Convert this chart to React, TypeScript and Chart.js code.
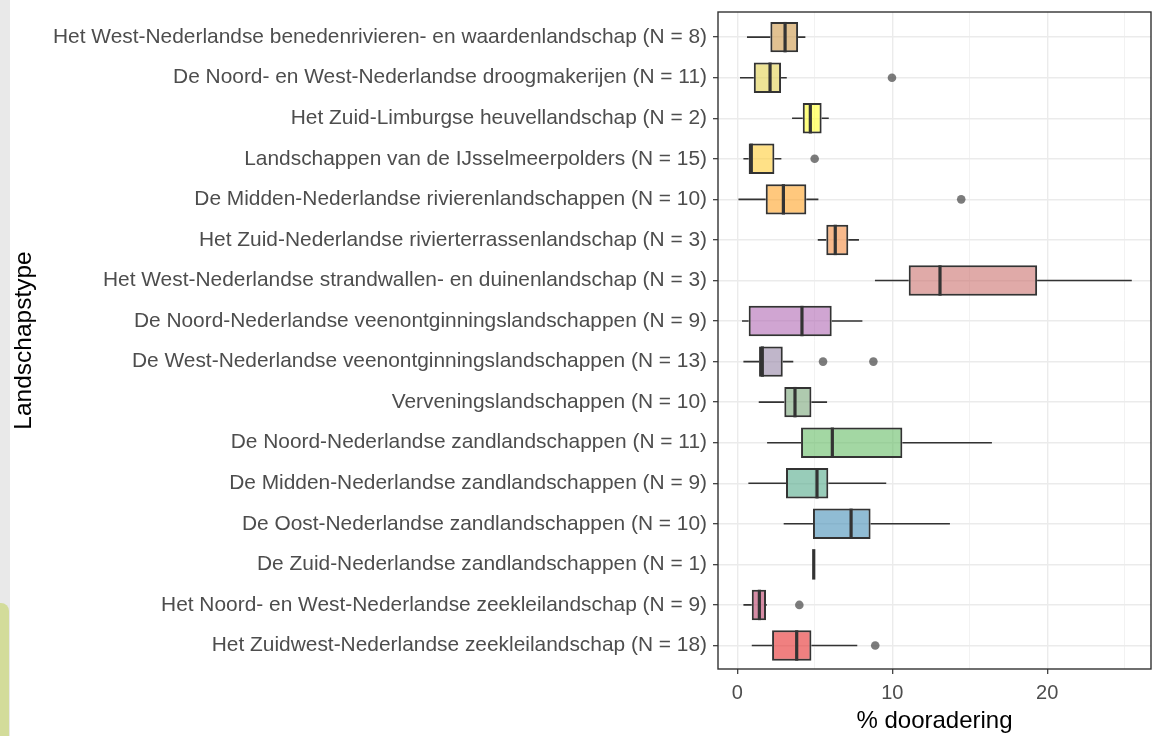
import React, { useEffect, useRef } from 'react';
import { Chart, registerables } from 'chart.js';

Chart.register(...registerables);

const categories = [
  'Het West-Nederlandse benedenrivieren- en waardenlandschap (N = 8)',
  'De Noord- en West-Nederlandse droogmakerijen (N = 11)',
  'Het Zuid-Limburgse heuvellandschap (N = 2)',
  'Landschappen van de IJsselmeerpolders (N = 15)',
  'De Midden-Nederlandse rivierenlandschappen (N = 10)',
  'Het Zuid-Nederlandse rivierterrassenlandschap (N = 3)',
  'Het West-Nederlandse strandwallen- en duinenlandschap (N = 3)',
  'De Noord-Nederlandse veenontginningslandschappen (N = 9)',
  'De West-Nederlandse veenontginningslandschappen (N = 13)',
  'Verveningslandschappen (N = 10)',
  'De Noord-Nederlandse zandlandschappen (N = 11)',
  'De Midden-Nederlandse zandlandschappen (N = 9)',
  'De Oost-Nederlandse zandlandschappen (N = 10)',
  'De Zuid-Nederlandse zandlandschappen (N = 1)',
  'Het Noord- en West-Nederlandse zeekleilandschap (N = 9)',
  'Het Zuidwest-Nederlandse zeekleilandschap (N = 18)',
];

const lowerWhisker = [0.62, 0.17, 3.53, 0.39, 0.07, 5.19, 8.88, 0.3, 0.39, 1.38, 1.92, 0.71, 2.99, 4.93, 0.39, 0.93];
const q1 = [2.13, 1.06, 4.22, 0.73, 1.83, 5.74, 11.06, 0.73, 1.4, 3.03, 4.11, 3.14, 4.88, 4.93, 0.93, 2.24];
const median = [3.08, 2.11, 4.71, 0.9, 2.97, 6.32, 13.08, 4.17, 1.61, 3.72, 6.13, 5.14, 7.34, 4.93, 1.42, 3.83];
const q3 = [3.92, 2.82, 5.44, 2.39, 4.45, 7.16, 19.35, 6.09, 2.93, 4.78, 10.65, 5.87, 8.6, 4.93, 1.85, 4.78];
const upperWhisker = [4.39, 3.19, 5.9, 2.84, 5.23, 7.85, 25.46, 8.07, 3.61, 5.79, 16.43, 9.61, 13.72, 4.93, 1.9, 7.74];
const outliers: number[][] = [[], [9.98], [], [4.99], [14.45], [], [], [], [5.53, 8.78], [], [], [], [], [], [4.0], [8.9]];

const boxColors = [
  'rgba(205,152,72,0.6)',
  'rgba(225,208,80,0.6)',
  'rgba(255,255,43,0.6)',
  'rgba(255,205,55,0.6)',
  'rgba(255,163,38,0.6)',
  'rgba(242,138,63,0.6)',
  'rgba(203,113,110,0.6)',
  'rgba(177,105,180,0.6)',
  'rgba(150,133,167,0.6)',
  'rgba(122,167,122,0.6)',
  'rgba(102,188,102,0.6)',
  'rgba(83,170,138,0.6)',
  'rgba(70,143,183,0.6)',
  'rgba(128,128,128,0.6)',
  'rgba(187,63,105,0.6)',
  'rgba(230,43,43,0.6)',
];

const xGridValues = [0, 5, 10, 15, 20, 25];
const xLabelValues = [0, 10, 20];
const xTitle = '% dooradering';
const yTitle = 'Landschapstype';

const FONT = "'Liberation Sans', Arial, sans-serif";
const INK = '#333333';

const boxplotPlugin = {
  id: 'boxplotExtras',
  beforeDatasetsDraw(chart: any) {
    const { ctx, scales } = chart;
    const xs = scales.x;
    const ys = scales.y;
    ctx.save();
    ctx.strokeStyle = INK;
    ctx.lineWidth = 1.6;
    categories.forEach((_, i) => {
      const y = ys.getPixelForValue(i);
      ctx.beginPath();
      ctx.moveTo(xs.getPixelForValue(lowerWhisker[i]), y);
      ctx.lineTo(xs.getPixelForValue(q1[i]), y);
      ctx.moveTo(xs.getPixelForValue(q3[i]), y);
      ctx.lineTo(xs.getPixelForValue(upperWhisker[i]), y);
      ctx.stroke();
    });
    ctx.restore();
  },
  afterDatasetsDraw(chart: any) {
    const { ctx, scales, chartArea } = chart;
    const xs = scales.x;
    const ys = scales.y;
    const half = Math.abs(ys.getPixelForValue(0.375) - ys.getPixelForValue(0));
    ctx.save();
    ctx.strokeStyle = INK;
    ctx.lineWidth = 3.2;
    categories.forEach((_, i) => {
      const y = ys.getPixelForValue(i);
      const x = xs.getPixelForValue(median[i]);
      ctx.beginPath();
      ctx.moveTo(x, y - half);
      ctx.lineTo(x, y + half);
      ctx.stroke();
    });
    ctx.fillStyle = 'rgba(80,80,80,0.75)';
    outliers.forEach((arr, i) => {
      const y = ys.getPixelForValue(i);
      arr.forEach((v) => {
        ctx.beginPath();
        ctx.arc(xs.getPixelForValue(v), y, 4.3, 0, Math.PI * 2);
        ctx.fill();
      });
    });
    ctx.strokeStyle = INK;
    ctx.lineWidth = 1.4;
    ctx.strokeRect(chartArea.left, chartArea.top, chartArea.right - chartArea.left, chartArea.bottom - chartArea.top);
    ctx.restore();
  },
};

export default function App() {
  const ref = useRef<HTMLCanvasElement | null>(null);

  useEffect(() => {
    if (!ref.current) return;
    const chart = new Chart(ref.current, {
      type: 'bar',
      data: {
        datasets: [
          {
            data: categories.map((_, i) => ({ y: i, x: [q1[i], q3[i]] })) as any,
            backgroundColor: boxColors,
            borderColor: INK,
            borderWidth: 2,
            borderSkipped: false,
            barPercentage: 0.75,
            categoryPercentage: 1,
          },
        ],
      },
      options: {
        indexAxis: 'y',
        animation: false,
        responsive: false,
        layout: { padding: { left: 10, right: 2, top: 12, bottom: 0 } },
        plugins: { legend: { display: false }, tooltip: { enabled: false } },
        scales: {
          x: {
            type: 'linear',
            min: -1.25,
            max: 26.7,
            offset: false,
            afterBuildTicks: (s: any) => {
              s.ticks = xGridValues.map((v) => ({ value: v }));
            },
            afterFit: (s: any) => {
              s.height = 67;
              s.paddingLeft = 0;
              s.paddingRight = 0;
            },
            border: { display: false },
            grid: {
              offset: false,
              color: (c: any) => (c.tick && xLabelValues.includes(c.tick.value) ? '#EBEBEB' : '#F0F0F0'),
              lineWidth: (c: any) => (c.tick && xLabelValues.includes(c.tick.value) ? 1.4 : 0.9),
              tickColor: (c: any) => (c.tick && xLabelValues.includes(c.tick.value) ? INK : 'rgba(0,0,0,0)'),
              tickLength: 5,
              tickWidth: 1.2,
            },
            ticks: {
              callback: (v: any) => (xLabelValues.includes(v) ? String(v) : ''),
              color: '#4D4D4D',
              font: { family: FONT, size: 20 },
              padding: 7,
              maxRotation: 0,
              autoSkip: false,
            },
            title: {
              display: true,
              text: xTitle,
              color: '#000',
              font: { family: FONT, size: 24 },
              padding: { top: 0, bottom: 0 },
            },
          },
          y: {
            type: 'linear',
            min: -0.62,
            max: 15.58,
            reverse: true,
            offset: false,
            afterBuildTicks: (s: any) => {
              s.ticks = categories.map((_, i) => ({ value: i }));
            },
            afterFit: (s: any) => {
              s.width = 708;
              s.paddingTop = 0;
              s.paddingBottom = 0;
            },
            border: { display: false },
            grid: {
              offset: false,
              color: '#EBEBEB',
              lineWidth: 1.4,
              tickColor: INK,
              tickLength: 5,
              tickWidth: 1.2,
            },
            ticks: {
              callback: (v: any) => categories[v],
              color: '#4D4D4D',
              font: { family: FONT, size: 20.9 },
              padding: 6,
              autoSkip: false,
            },
            title: {
              display: true,
              text: yTitle,
              color: '#000',
              font: { family: FONT, size: 24.5 },
              padding: { top: 0, bottom: 0 },
            },
          },
        },
      },
      plugins: [boxplotPlugin],
    });
    return () => chart.destroy();
  }, []);

  return (
    <div style={{ position: 'fixed', left: 0, top: 0, width: 1153, height: 736, background: '#fff', overflow: 'hidden' }}>
      <div style={{ position: 'absolute', left: 0, top: 0, width: 10, height: 736, background: '#E9E9E9' }} />
      <div style={{ position: 'absolute', left: 0, top: 603, width: 9, height: 133, background: '#D3DC9A', borderTopRightRadius: 8 }} />
      <canvas ref={ref} width={1153} height={736} style={{ position: 'absolute', left: 0, top: 0, width: 1153, height: 736 }} />
    </div>
  );
}
